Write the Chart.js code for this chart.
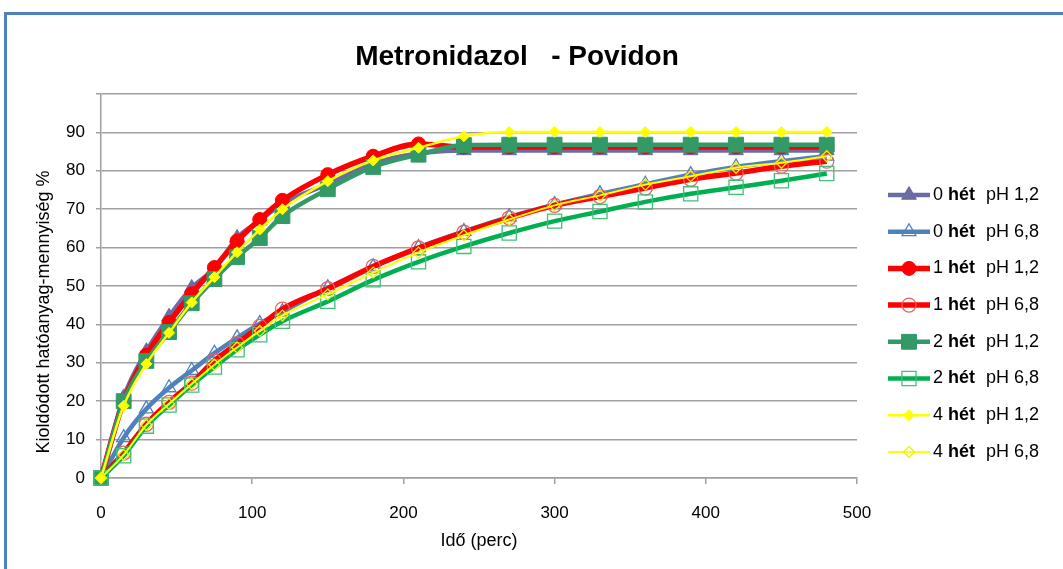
<!DOCTYPE html>
<html><head><meta charset="utf-8">
<script src="https://cdn.jsdelivr.net/npm/chart.js@4/dist/chart.umd.min.js"></script>
<style>html,body{margin:0;padding:0;background:#fff;overflow:hidden}#wrap{position:relative;width:1063px;height:569px}</style>
</head><body><div id="wrap"><canvas id="c" width="1063" height="569"></canvas></div>
<script>
// ---- data ----
const times = [0,15,30,45,60,75,90,105,120,150,180,210,240,270,300,330,360,390,420,450,480];
const het0_ph12 = [0,21,33,42,49.5,54.5,62.5,67,71.5,76.5,82,84.5,85.3,85.3,85.3,85.3,85.3,85.3,85.3,85.3,85.3];
const het0_ph68 = [0,10.5,18,23.5,28,32.5,36.5,40.2,43.3,49.5,55,60,64.2,68,71.2,74,76.5,79,81,82.5,83.8];
const het1_ph12 = [0,20,32,40.5,48,54.8,61.7,67.3,72.3,79,83.8,87,86.2,86.2,86.2,86.2,86.2,86.2,86.2,86.2,86.2];
const het1_ph68 = [0,6.5,14,19.7,24.7,30.5,35,39.5,44,49.3,55.1,59.9,64,67.7,71,73.3,75.5,77.8,79.4,81.2,82.5];
const het2_ph12 = [0,20,30.5,38,45.5,51.8,57.5,62.5,68.2,75.2,81,84.2,86.7,86.8,86.8,86.8,86.8,86.8,86.8,86.8,86.8];
const het2_ph68 = [0,5.8,13.5,19,24.2,28.9,33.4,37.3,40.8,46,51.6,56.3,60.3,63.8,66.9,69.4,71.9,74,75.7,77.4,79.3];
const het4_ph12 = [0,18.8,29.7,37.8,45.7,52.3,58.8,64.7,70,77.3,82.7,86,89,90.1,90.1,90.1,90.1,90.1,90.1,90.1,90.1];
const het4_ph68 = [0,6,13.8,19.3,24.5,29.5,34,38.3,42.3,47.8,53.5,58.7,63.2,67.3,71,73.6,76.4,78.6,80.8,82.1,83.8];
const legendWeeks = ['0','0','1','1','2','2','4','4'];
const legendWord = 'hét';
const legendPH = ['pH 1,2','pH 6,8','pH 1,2','pH 6,8','pH 1,2','pH 6,8','pH 1,2','pH 6,8'];
const titleText = 'Metronidazol   - Povidon';
const yTitle = 'Kioldódott hatóanyag-mennyiség %';
const xTitle = 'Idő (perc)';
const xMin = 0, xMax = 500, xStep = 100;
const yMin = 0, yMax = 100, yStep = 10;

// ---- styles ----
const FONT = '"Liberation Sans", Arial, sans-serif';
const styles = [
  {c:'#6B6BA6', w:4.5, ps:'triangle', r:8.5, fill:true,  bc:'#6B6BA6'},
  {c:'#4F81BD', w:4.5, ps:'triangle', r:8,   fill:false, bc:'#4F81BD'},
  {c:'#FF0000', w:5.5, ps:'circle',   r:7,   fill:true,  bc:'#FF0000'},
  {c:'#FF0000', w:5.5, ps:'circle',   r:7,   fill:false, bc:'#F06060'},
  {c:'#339966', w:4.5, ps:'rect',     r:10.5,fill:true,  bc:'#339966'},
  {c:'#00B050', w:4.5, ps:'rect',     r:10,  fill:false, bc:'#40C078'},
  {c:'#FFFF00', w:2.5, ps:'rectRot',  r:5.5, fill:true,  bc:'#FFFF00'},
  {c:'#FFFF00', w:2,   ps:'rectRot',  r:5.5, fill:false, bc:'#F0F000'}
];
const seriesData = [het0_ph12,het0_ph68,het1_ph12,het1_ph68,het2_ph12,het2_ph68,het4_ph12,het4_ph68];

const datasets = seriesData.map((arr,i)=>{
  const s = styles[i];
  return {
    label: legendWeeks[i]+' '+legendWord+'  '+legendPH[i],
    data: arr.map((v,j)=>({x:times[j], y:v})),
    borderColor: s.c, borderWidth: s.w,
    backgroundColor: s.c,
    pointStyle: s.ps, pointRadius: s.r,
    pointBackgroundColor: s.fill ? s.bc : 'rgba(0,0,0,0)',
    pointBorderColor: s.bc, pointBorderWidth: s.fill ? 1 : 1.3,
    cubicInterpolationMode: 'monotone', tension: 0.4,
    order: 8 - i, clip: false
  };
});

function drawMarker(ctx, s, x, y){
  ctx.save();
  ctx.beginPath();
  const r = s.r;
  if (s.ps==='circle'){ ctx.arc(x,y,r,0,Math.PI*2); }
  else if (s.ps==='triangle'){
    ctx.moveTo(x, y - r);
    ctx.lineTo(x + r*Math.cos(Math.PI/6), y + r/2);
    ctx.lineTo(x - r*Math.cos(Math.PI/6), y + r/2);
    ctx.closePath();
  } else if (s.ps==='rect'){
    const h = r*Math.SQRT1_2; ctx.rect(x-h,y-h,2*h,2*h);
  } else {
    ctx.moveTo(x-r,y); ctx.lineTo(x,y-r); ctx.lineTo(x+r,y); ctx.lineTo(x,y+r); ctx.closePath();
  }
  if (s.fill){ ctx.fillStyle = s.bc; ctx.fill(); }
  ctx.strokeStyle = s.bc; ctx.lineWidth = s.fill?1:1.3; ctx.stroke();
  ctx.restore();
}

const deco = {
  id:'deco',
  beforeDraw(chart){
    const ctx = chart.ctx;
    ctx.save();
    ctx.fillStyle='#fff'; ctx.fillRect(0,0,chart.width,chart.height);
    ctx.strokeStyle='#4F81BD'; ctx.lineWidth=3;
    ctx.strokeRect(5.5,13.5,1200,700);
    ctx.restore();
  },
  afterDraw(chart){
    const ctx = chart.ctx;
    ctx.save();
    // title
    ctx.fillStyle='#000';
    ctx.font = 'bold 28px '+FONT;
    ctx.textAlign='center'; ctx.textBaseline='middle';
    ctx.fillText(titleText, 517, 57);
    // y title
    ctx.font = '18px '+FONT;
    ctx.translate(44, 312); ctx.rotate(-Math.PI/2);
    ctx.fillText(yTitle, 0, 0);
    ctx.restore();
    // legend
    ctx.save();
    ctx.textBaseline='middle'; ctx.textAlign='left'; ctx.fillStyle='#000';
    for (let i=0;i<8;i++){
      const y = 195 + i*36.7;
      const s = styles[i];
      ctx.beginPath(); ctx.strokeStyle=s.c; ctx.lineWidth=s.w; ctx.lineCap='butt';
      ctx.moveTo(888,y); ctx.lineTo(930,y); ctx.stroke();
      drawMarker(ctx, s, 909, y);
      ctx.fillStyle='#000';
      ctx.font='18px '+FONT;
      ctx.fillText(legendWeeks[i], 933, y);
      ctx.font='bold 18px '+FONT;
      ctx.fillText(legendWord, 948, y);
      ctx.font='18px '+FONT;
      ctx.fillText(legendPH[i], 986, y);
    }
    ctx.restore();
  }
};

new Chart(document.getElementById('c'), {
  type:'line',
  data:{datasets},
  plugins:[deco],
  options:{
    responsive:false, devicePixelRatio:1, animation:false, events:[],
    layout:{padding:{top:94, right:206, left:0, bottom:0}},
    plugins:{legend:{display:false}, title:{display:false}, tooltip:{enabled:false}},
    scales:{
      x:{type:'linear', min:xMin, max:xMax,
        ticks:{stepSize:xStep, color:'#000', font:{family:FONT, size:17}, padding:19, maxRotation:0},
        grid:{drawOnChartArea:false, drawTicks:true, tickLength:6, color:'#A0A0A0', lineWidth:1.5},
        border:{display:true, color:'#A0A0A0', width:1.5},
        title:{display:true, text:xTitle, color:'#000', font:{family:FONT, size:18}, padding:{top:0,bottom:17}},
        afterFit(s){ s.height = 91; }
      },
      y:{type:'linear', min:yMin, max:yMax,
        ticks:{stepSize:yStep, color:'#000', font:{family:FONT, size:17}, padding:11,
          callback:(v)=> v===yMax ? '' : String(v)},
        grid:{drawOnChartArea:true, drawTicks:true, tickLength:5, color:'#A0A0A0', lineWidth:1.5},
        border:{display:true, color:'#A0A0A0', width:1.5},
        afterFit(s){ s.width = 101; }
      }
    }
  }
});
</script></body></html>
